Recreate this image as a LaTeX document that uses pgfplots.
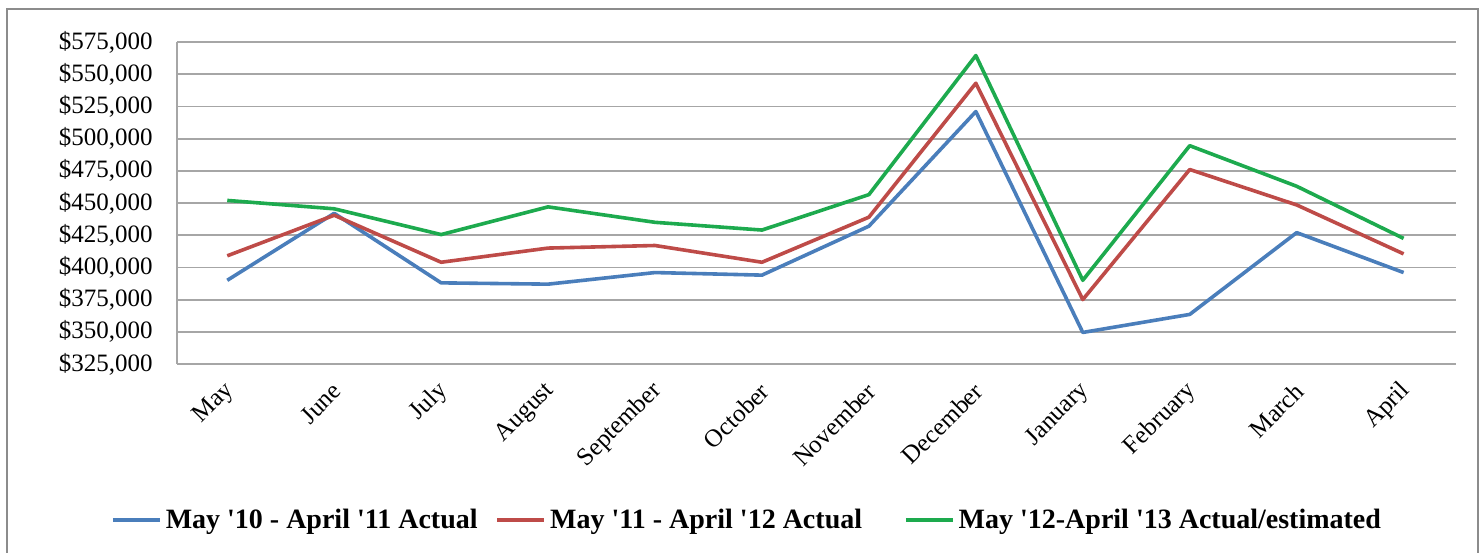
\documentclass[border=0pt]{standalone}
\usepackage{pgfplots}
\pgfplotsset{compat=1.18}
\usepackage{fontspec}
\setmainfont{Liberation Serif}
\definecolor{sblue}{HTML}{4A7EBB}
\definecolor{sred}{HTML}{BE4B48}
\definecolor{sgreen}{HTML}{1DAA4E}
\definecolor{gridgray}{HTML}{A6A6A6}
\definecolor{framegray}{HTML}{8C8C8C}
\begin{document}
\begin{tikzpicture}
\path[use as bounding box] (-88.5pt,-94pt) rectangle (652.5pt,182pt);
\begin{axis}[
  at={(0,0)}, anchor=south west,
  scale only axis, width=639.5pt, height=161pt,
  xmin=-0.47, xmax=11.49, ymin=325000, ymax=575000,
  scaled y ticks=false,
  xtick={0,1,2,3,4,5,6,7,8,9,10,11},
  xticklabels={May,June,July,August,September,October,November,December,January,February,March,April},
  ytick={325000,350000,375000,400000,425000,450000,475000,500000,525000,550000,575000},
  yticklabels={{\$325,000},{\$350,000},{\$375,000},{\$400,000},{\$425,000},{\$450,000},{\$475,000},{\$500,000},{\$525,000},{\$550,000},{\$575,000}},
  ymajorgrids, grid style={gridgray, line width=0.9pt},
  axis x line*=bottom, axis y line*=left,
  axis line style={gridgray, line width=0.9pt, -},
  major tick length=0pt,
  tick label style={font=\fontsize{12.5}{14}\selectfont},
  yticklabel style={inner sep=0pt, xshift=-12pt},
  xticklabel style={inner sep=0pt, xshift=1.5pt, yshift=-11.5pt, rotate=45, anchor=east},
  legend columns=3,
  legend style={at={(0.4465,-0.4845)}, anchor=center, draw=none, fill=none,
    font=\bfseries\fontsize{14}{16}\selectfont, column sep=0pt,
    nodes={inner sep=2pt}},
  legend image code/.code={\draw[#1] (0pt,0pt) -- (23.5pt,0pt);},
  every axis plot/.append style={line width=1.8pt, mark=none, line join=round},
]
\addplot[sblue] coordinates {(0,390000)(1,442000)(2,388000)(3,387000)(4,396000)(5,394000)(6,432000)(7,521000)(8,349500)(9,363500)(10,427000)(11,396000)};
\addlegendentry{May \textquotesingle 10 - April \textquotesingle 11 Actual\rule{7pt}{0pt}}
\addplot[sred] coordinates {(0,409000)(1,440500)(2,404000)(3,415000)(4,417000)(5,404000)(6,439000)(7,543000)(8,375000)(9,476000)(10,448500)(11,410500)};
\addlegendentry{May \textquotesingle 11 - April \textquotesingle 12 Actual\rule{19pt}{0pt}}
\addplot[sgreen] coordinates {(0,452000)(1,445500)(2,425500)(3,447000)(4,435000)(5,429000)(6,456500)(7,564500)(8,390000)(9,494500)(10,463000)(11,422500)};
\addlegendentry{May \textquotesingle 12-April \textquotesingle 13 Actual/estimated}
\end{axis}
\draw[framegray, line width=1.2pt] (-85pt,-110pt) -- (-85pt,177.5pt) -- (650.5pt,177.5pt) -- (650.5pt,-110pt);
\end{tikzpicture}
\end{document}
